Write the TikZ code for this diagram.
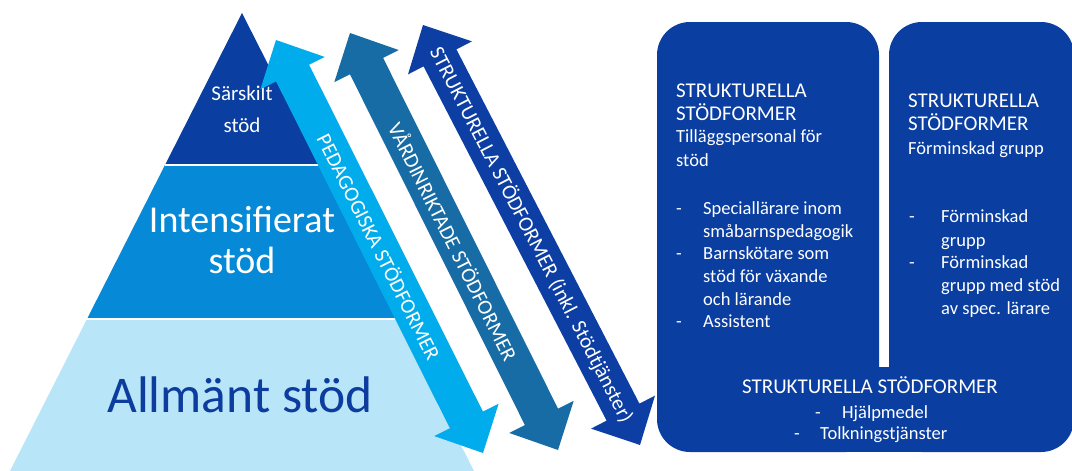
\documentclass[tikz,border=0pt]{standalone}
\usepackage{fontspec}
\setmainfont{Carlito}
\usetikzlibrary{calc}
\definecolor{pyrtop}{RGB}{10,62,160}
\definecolor{pyrmid}{RGB}{6,137,214}
\definecolor{pyrbot}{RGB}{185,229,248}
\definecolor{txtdark}{RGB}{12,61,158}
\definecolor{arrA}{RGB}{0,172,236}
\definecolor{arrB}{RGB}{24,108,165}
\definecolor{arrC}{RGB}{12,62,163}
\definecolor{boxblue}{RGB}{10,62,160}
\newcommand\twoheadarrow[3]{%
  \coordinate (hA) at ($(#1)!37pt!(#2)$);
  \coordinate (hB) at ($(#2)!37pt!(#1)$);
  \fill[#3] (#1)
    -- ($(hA)!36pt!90:(#2)$) -- ($(hA)!18.5pt!90:(#2)$)
    -- ($(hB)!18.5pt!-90:(#1)$) -- ($(hB)!36pt!-90:(#1)$)
    -- (#2)
    -- ($(hB)!36pt!90:(#1)$) -- ($(hB)!18.5pt!90:(#1)$)
    -- ($(hA)!18.5pt!-90:(#2)$) -- ($(hA)!36pt!-90:(#2)$)
    -- cycle;
}
\tikzset{
  lbl/.style={inner sep=0pt, text=white},
  hdr/.style={lbl, anchor=base west, font=\fontsize{21}{24}\selectfont},
  bod/.style={lbl, anchor=base west, font=\fontsize{18.5}{22}\selectfont},
  arrtxt/.style={inner sep=0pt, text=white, font=\fontsize{21}{24}\selectfont, sloped, midway},
}
\begin{document}
\begin{tikzpicture}[x=1pt,y=-1pt]
\useasboundingbox (0,0) rectangle (1072,471);
\fill[white] (0,0) rectangle (1072,471);
% pyramid
\fill[pyrtop] (242,13) -- (319,165) -- (165,165) -- cycle;
\fill[pyrmid] (165,165) -- (319,165) -- (397,319) -- (87,319) -- cycle;
\fill[pyrbot] (87,319) -- (397,319) -- (474,471) -- (10,471) -- cycle;
\draw[white, line width=1.2pt] (165,165) -- (319,165);
\draw[white, line width=1.2pt] (87,319) -- (397,319);
\node[lbl, anchor=base, font=\fontsize{21}{24}\selectfont] (s1) at (242,100) {Särskilt};
\node[lbl, anchor=base, font=\fontsize{21}{24}\selectfont] (s2) at (242,132) {stöd};
\node[lbl, anchor=base, font=\fontsize{38}{40}\selectfont] (i1) at (242,232) {Intensifierat};
\node[lbl, anchor=base, font=\fontsize{38}{40}\selectfont] (i2) at (242,273) {stöd};
\node[inner sep=0pt, text=txtdark, anchor=base, font=\fontsize{51.5}{54}\selectfont] (al) at (240,412) {Allmänt stöd};
% arrows
\coordinate (a1t) at (276,40);  \coordinate (a1b) at (483,453);
\coordinate (a2t) at (350,33);  \coordinate (a2b) at (558,450);
\coordinate (a3t) at (423,25);  \coordinate (a3b) at (640,445);
\twoheadarrow{a1t}{a1b}{arrA}
\twoheadarrow{a2t}{a2b}{arrB}
\twoheadarrow{a3t}{a3b}{arrC}
\path (a1t) -- (a1b) node[arrtxt] (t1) {PEDAGOGISKA STÖDFORMER};
\path (a2t) -- (a2b) node[arrtxt] (t2) {VÅRDINRIKTADE STÖDFORMER};
\path (a3t) -- (a3b) node[arrtxt] (t3) {STRUKTURELLA STÖDFORMER (inkl. Stödtjänster)};
% boxes
\fill[boxblue, rounded corners=33pt] (657,22) rectangle (879,452);
\fill[boxblue, rounded corners=33pt] (889,22) rectangle (1074,452);
\fill[boxblue] (830,367) rectangle (940,452);
% box A
\node[hdr] (ah1) at (676,97) {STRUKTURELLA};
\node[hdr] (ah2) at (676,120) {STÖDFORMER};
\node[bod] (ah3) at (676,142) {Tilläggspersonal för};
\node[bod] (ah4) at (676,166) {stöd};
\node[bod] (ad1) at (676,214) {-};
\node[bod] (ab1) at (703,214) {Speciallärare inom};
\node[bod] (ab2) at (703,237) {småbarnspedagogik};
\node[bod] (ad2) at (676,259) {-};
\node[bod] (ab3) at (703,259) {Barnskötare som};
\node[bod] (ab4) at (703,282) {stöd för växande};
\node[bod] (ab5) at (703,305) {och lärande};
\node[bod] (ad3) at (676,327) {-};
\node[bod] (ab6) at (703,327) {Assistent};
% box B
\node[hdr] (bh1) at (908,107) {STRUKTURELLA};
\node[hdr] (bh2) at (908,130) {STÖDFORMER};
\node[bod] (bh3) at (908,154) {Förminskad grupp};
\node[bod] (bd1) at (909,222) {-};
\node[bod] (bb1) at (941,222) {Förminskad};
\node[bod] (bb2) at (941,246) {grupp};
\node[bod] (bd2) at (909,268) {-};
\node[bod] (bb3) at (941,268) {Förminskad};
\node[bod] (bb4) at (941,291) {grupp med stöd};
\node[bod] (bb5) at (941,314) {av spec. lärare};
% bottom
\node[hdr, anchor=base] (ch) at (870,393) {STRUKTURELLA STÖDFORMER};
\node[bod] (cd1) at (815,418) {-};
\node[bod] (cb1) at (842,418) {Hjälpmedel};
\node[bod] (cd2) at (794,439) {-};
\node[bod] (cb2) at (820,439) {Tolkningstjänster};
\end{tikzpicture}
\end{document}
